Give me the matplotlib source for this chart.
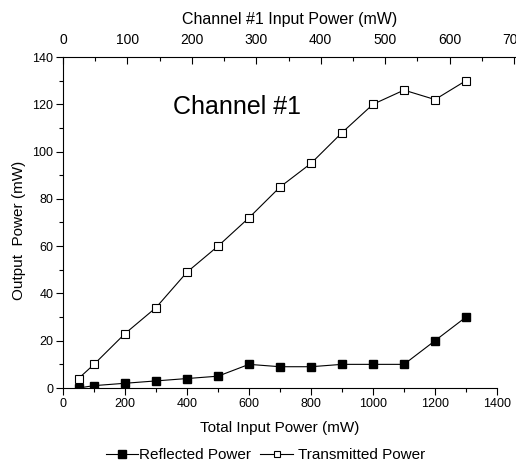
import matplotlib
matplotlib.use("Agg")
import matplotlib.pyplot as plt
from matplotlib.ticker import MultipleLocator
from matplotlib.lines import Line2D

plt.rcParams['font.family'] = ['Liberation Sans', 'DejaVu Sans']

# --- datos ---
total_input = [50, 100, 200, 300, 400, 500, 600, 700, 800, 900, 1000, 1100, 1200, 1300]
reflected = [0, 1, 2, 3, 4, 5, 10, 9, 9, 10, 10, 10, 20, 30]
transmitted = [4, 10, 23, 34, 49, 60, 72, 85, 95, 108, 120, 126, 122, 130]

W, H = 516, 465
fig = plt.figure(figsize=(W / 100, H / 100), dpi=100)
fig.patch.set_facecolor('white')

# axes principal (px -> fracción)
x0, x1 = 63, 497
y_top, y_bot = 57, 388
ax = fig.add_axes([x0 / W, (H - y_bot) / H, (x1 - x0) / W, (y_bot - y_top) / H])

ax.plot(total_input, reflected, color='black', lw=0.8, marker='s', ms=6,
        mfc='black', mec='black', label='Reflected Power')
ax.plot(total_input, transmitted, color='black', lw=0.8, marker='s', ms=6,
        mfc='white', mec='black', mew=0.8, label='Transmitted Power')

ax.set_xlim(0, 1400)
ax.set_ylim(0, 140)
ax.xaxis.set_major_locator(MultipleLocator(200))
ax.xaxis.set_minor_locator(MultipleLocator(100))
ax.yaxis.set_major_locator(MultipleLocator(20))
ax.yaxis.set_minor_locator(MultipleLocator(10))
ax.tick_params(which='major', direction='out', length=5, width=0.8, labelsize=9, pad=2)
ax.tick_params(which='minor', direction='out', length=3, width=0.8)
ax.spines['top'].set_visible(False)
ax.spines['right'].set_visible(False)
for s in ('left', 'bottom'):
    ax.spines[s].set_linewidth(0.8)

ax.set_xlabel('Total Input Power (mW)', fontsize=11, labelpad=8)
ax.set_ylabel('Output  Power (mW)', fontsize=11)
ax.yaxis.set_label_coords(-0.086, 0.477)
ax.text(355, 119, 'Channel #1', fontsize=18, ha='left', va='center')

# eje superior (canal #1), más largo que el inferior
x_end = 516
ax2 = fig.add_axes([x0 / W, (H - y_top) / H, (x_end - x0) / W, 0.0001])
ax2.set_xlim(0, 700 * (x_end - x0) / (514 - x0))
ax2.set_yticks([])
ax2.patch.set_visible(False)
for s in ('left', 'right', 'bottom'):
    ax2.spines[s].set_visible(False)
ax2.spines['top'].set_linewidth(0.8)
ax2.xaxis.tick_top()
ax2.xaxis.set_label_position('top')
ax2.xaxis.set_major_locator(MultipleLocator(100))
ax2.xaxis.set_minor_locator(MultipleLocator(50))
ax2.tick_params(which='major', direction='in', length=5, width=0.8, labelsize=10, pad=7)
ax2.tick_params(which='minor', direction='in', length=3, width=0.8)
ax2.set_xlabel('Channel #1 Input Power (mW)', fontsize=11.5, labelpad=7)

# leyenda abajo
handles = [
    Line2D([], [], color='black', lw=0.8, marker='s', ms=5.5, mfc='black', mec='black'),
    Line2D([], [], color='black', lw=0.8, marker='s', ms=5, mfc='white', mec='black', mew=0.8),
]
fig.legend(handles, ['Reflected Power', ' Transmitted Power'], loc='center',
           bbox_to_anchor=(265.5 / W, (H - 455) / H), ncol=2, frameon=False, fontsize=11,
           handlelength=2.1, handletextpad=0.1, columnspacing=0.6)

fig.savefig('out.png', dpi=100, facecolor='white')
